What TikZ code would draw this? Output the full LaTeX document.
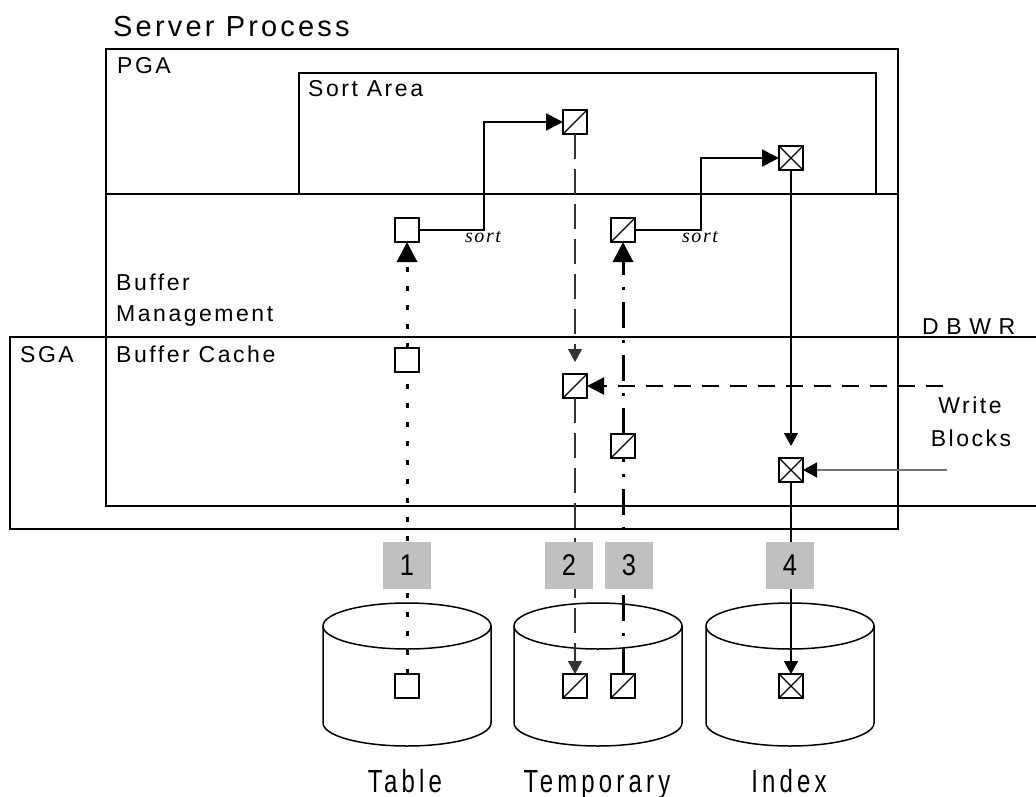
\documentclass[tikz,border=0pt]{standalone}
\usepackage{fontspec}
\usetikzlibrary{arrows.meta}
\setmainfont{Liberation Sans}
\newfontfamily\lab{Liberation Sans}[LetterSpace=11]
\newfontfamily\labb{Liberation Sans}[FakeStretch=0.75,LetterSpace=13]
\newfontfamily\labn{Liberation Sans}[FakeStretch=0.85]
\newfontfamily\labw{Liberation Sans}[LetterSpace=33]
\newfontfamily\srt{Liberation Serif}[LetterSpace=8]
\definecolor{numgray}{HTML}{C0C0C0}
\tikzset{
  frame/.style={line width=1.6pt},
  blk/.style={draw, line width=1.6pt, fill=white, minimum size=24pt, inner sep=0pt, outer sep=0pt},
  slash/.style={blk, path picture={\draw[line width=1.1pt] (path picture bounding box.south west) -- (path picture bounding box.north east);}},
  cross/.style={blk, path picture={\draw[line width=1.1pt] (path picture bounding box.south west) -- (path picture bounding box.north east) (path picture bounding box.north west) -- (path picture bounding box.south east);}},
  txt/.style={inner sep=0pt, anchor=base west, font=\lab\fontsize{23}{27}\selectfont},
  lbl/.style={inner sep=0pt, anchor=base, font=\labb\fontsize{32}{36}\selectfont},
  sortlbl/.style={inner sep=0pt, anchor=base, font=\srt\itshape\fontsize{20}{23}\selectfont},
  numbox/.style={fill=numgray, minimum width=48pt, minimum height=47pt, inner sep=0pt, font=\labn\fontsize{30}{33}\selectfont},
  bigtip/.style={-{Triangle[length=20pt,width=20pt]}},
  midtip/.style={-{Triangle[length=17pt,width=17pt]}},
  smalltip/.style={-{Triangle[length=13pt,width=14pt]}},
  lone/.style={line width=3pt, dash pattern=on 5pt off 14pt},
  ltwo/.style={line width=1.2pt, black!80, dash pattern=on 25pt off 10pt},
  lthree/.style={line width=3pt, dash pattern=on 26pt off 12pt on 3pt off 12pt},
  lfour/.style={line width=1.6pt},
  sortline/.style={line width=1.6pt},
}
\begin{document}
\begin{tikzpicture}[x=1pt,y=-1pt]
\useasboundingbox (0,0) rectangle (1036,797);
% frames
\draw[frame] (106,49) rectangle (898,506);
\draw[frame] (10,337) rectangle (898,529);
\draw[frame] (106,194) -- (898,194);
\draw[frame] (10,337) -- (1036,337);
\draw[frame] (106,506) -- (1036,506);
\draw[frame] (299,194) -- (299,73) -- (876,73) -- (876,194);
% texts
\node[txt, font=\lab\fontsize{29}{33}\selectfont] (tsp) at (113,37) {Server Process};
\node[txt] (tpga) at (117,74) {PGA};
\node[txt] (tsort) at (308,97) {Sort Area};
\node[txt] (tbuf) at (116,290) {Buffer};
\node[txt] (tman) at (116,321) {Management};
\node[txt] (tsga) at (20,362) {SGA};
\node[txt] (tbc) at (116,362) {Buffer Cache};
\node[txt, font=\labw\fontsize{23}{27}\selectfont] (tdbwr) at (922,334) {DBWR};
\node[txt, anchor=base] (twr) at (970,413) {Write};
\node[txt, anchor=base] (tbl) at (971,446) {Blocks};
% cylinders
\foreach \cx/\nm in {407/ctab,598/ctmp,790/cidx}{
  \draw[line width=1.5pt, fill=white] (\cx-84,626) -- (\cx-84,723) arc[start angle=180, end angle=0, x radius=84, y radius=23] -- (\cx+84,626);
  \draw[line width=1.5pt] (\cx,626) ellipse [x radius=84, y radius=23];
}
\node[lbl] (ltab) at (405,792) {Table};
\node[lbl] (ltmp) at (597,792) {Temporary};
\node[lbl] (lidx) at (789,792) {Index};
% blocks
\node[blk] (s1) at (407,230) {};
\node[slash] (s2) at (575,122) {};
\node[slash] (s3) at (623,230) {};
\node[cross] (s4) at (791,158) {};
\node[blk] (b1) at (407,360) {};
\node[slash] (b2) at (575,386) {};
\node[slash] (b3) at (623,446) {};
\node[cross] (b4) at (791,470) {};
\node[blk] (d1) at (407,686) {};
\node[slash] (d2) at (575,686) {};
\node[slash] (d3) at (623,686) {};
\node[cross] (d4) at (791,686) {};
% sort connectors
\coordinate (r1) at (484,230);
\coordinate (r2) at (701,230);
\draw[sortline, midtip] (s1.east) -- (r1) |- (s2.west);
\draw[sortline, midtip] (s3.east) -- (r2) |- (s4.west);
\node[sortlbl] (so1) at (483,242) {sort};
\node[sortlbl] (so2) at (700,242) {sort};
% 1
\draw[lone] (d1.north) -- (b1.south);
\draw[lone, bigtip] (b1.north) -- (s1.south);
% 2
\draw[ltwo, smalltip, shorten >=12pt] (s2.south) -- (b2.north);
\draw[ltwo, smalltip] (b2.south) -- (d2.north);
% 3
\draw[lthree] (d3.north) -- (b3.south);
\draw[lthree, bigtip] (b3.north) -- (s3.south);
% 4
\draw[lfour, smalltip, shorten >=12pt] (s4.south) -- (b4.north);
\draw[lfour, smalltip] (b4.south) -- (d4.north);
% DBWR
\coordinate (w1) at (943,386);
\coordinate (w2) at (947,470);
\draw[line width=2pt, dash pattern=on 17pt off 11pt, midtip] (w1) -- (b2.east);
\draw[line width=1.4pt, black!55, -{Triangle[length=14pt,width=15pt,color=black]}] (w2) -- (b4.east);
% number boxes
\node[numbox] (n1) at (407,565.5) {1};
\node[numbox] (n2) at (569,565.5) {2};
\node[numbox] (n3) at (629,565.5) {3};
\node[numbox] (n4) at (790,565.5) {4};
\end{tikzpicture}
\end{document}
